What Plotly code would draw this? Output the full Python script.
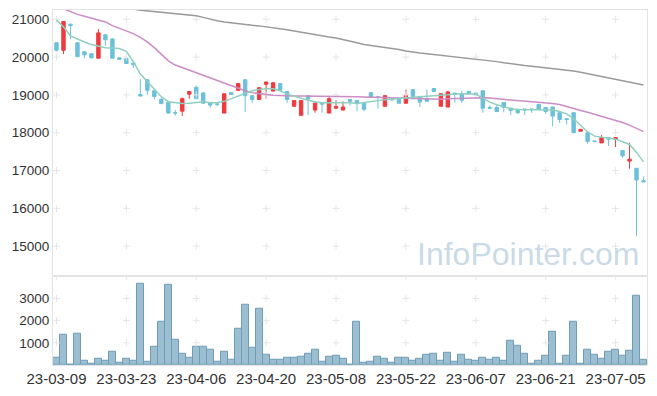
import plotly.graph_objects as go
from plotly.subplots import make_subplots

dates = [
    "2023-03-09", "2023-03-10", "2023-03-13", "2023-03-14", "2023-03-15", "2023-03-16", "2023-03-17",
    "2023-03-20", "2023-03-21", "2023-03-22", "2023-03-23", "2023-03-24", "2023-03-27", "2023-03-28",
    "2023-03-29", "2023-03-30", "2023-03-31",
    "2023-04-03", "2023-04-04", "2023-04-05", "2023-04-06", "2023-04-07", "2023-04-10", "2023-04-11",
    "2023-04-12", "2023-04-13", "2023-04-14", "2023-04-17", "2023-04-18", "2023-04-19", "2023-04-20",
    "2023-04-21", "2023-04-24", "2023-04-25", "2023-04-26", "2023-04-27", "2023-04-28",
    "2023-05-02", "2023-05-03", "2023-05-04", "2023-05-08", "2023-05-09", "2023-05-10", "2023-05-11",
    "2023-05-12", "2023-05-15", "2023-05-16", "2023-05-17", "2023-05-18", "2023-05-19", "2023-05-22",
    "2023-05-23", "2023-05-24", "2023-05-25", "2023-05-26", "2023-05-30", "2023-05-31",
    "2023-06-01", "2023-06-02", "2023-06-05", "2023-06-07", "2023-06-08", "2023-06-09", "2023-06-12",
    "2023-06-13", "2023-06-14", "2023-06-15", "2023-06-16", "2023-06-19", "2023-06-20", "2023-06-21",
    "2023-06-22", "2023-06-23", "2023-06-26", "2023-06-27", "2023-06-28", "2023-06-29", "2023-06-30",
    "2023-07-03", "2023-07-04", "2023-07-05", "2023-07-06", "2023-07-07", "2023-07-10", "2023-07-11",
]

open_ = [20380, 20180, 20870, 20380, 20140, 20090, 19970, 20590, 20480, 19980,
         19960, 19840, 19010, 19400, 19110, 18880, 18800, 18530, 18570, 19020,
         19200, 19050, 18800, 18760, 18520, 19060, 19120, 19400, 18980, 18880,
         19280, 19100, 19300, 19090, 18700, 18460, 18980, 18600, 18770, 18520,
         18650, 18600, 18880, 18850, 18780, 19060, 18950, 18700, 18880, 18900,
         18780, 19140, 18960, 18900, 19170, 18700, 18680, 19050, 19030, 19090,
         19050, 19110, 18670, 18670, 18800, 18650, 18620, 18630, 18630, 18750,
         18670, 18680, 18530, 18370, 18530, 18040, 18000, 17780, 17730, 17870,
         17830, 17530, 17250, 17060, 16730]
high = [20400, 20950, 20880, 20380, 20140, 20090, 20740, 20590, 20500, 19990,
        19960, 19850, 19420, 19420, 19110, 18930, 18800, 18600, 18930, 19100,
        19250, 19080, 18800, 18790, 19040, 19060, 19300, 19420, 18980, 19200,
        19350, 19330, 19300, 19090, 18850, 18850, 18980, 18830, 18770, 18950,
        18860, 18830, 18880, 18850, 18780, 19060, 18950, 18980, 18900, 18900,
        19140, 19140, 18960, 19140, 19170, 19030, 19110, 19050, 19110, 19090,
        19050, 19110, 18720, 18720, 18800, 18650, 18620, 18630, 18630, 18750,
        18670, 18680, 18530, 18370, 18530, 18090, 18000, 17790, 17940, 17870,
        17870, 17530, 17740, 17060, 16840]
low = [20150, 20080, 20470, 20000, 19970, 19970, 19970, 20300, 19960, 19930,
       19820, 19710, 18960, 19000, 18880, 18760, 18510, 18450, 18440, 18900,
       18900, 18770, 18650, 18700, 18510, 19000, 19110, 18550, 18790, 18870,
       18900, 19100, 19120, 18790, 18700, 18460, 18460, 18530, 18530, 18510,
       18640, 18590, 18720, 18570, 18570, 18940, 18640, 18700, 18860, 18780,
       18780, 18880, 18680, 18830, 19090, 18700, 18670, 18790, 18790, 19030,
       19000, 18530, 18640, 18560, 18540, 18470, 18490, 18470, 18530, 18630,
       18500, 18170, 18260, 18220, 18000, 18040, 17710, 17750, 17730, 17650,
       17620, 17340, 17050, 15260, 16700]
close = [20180, 20940, 20830, 20010, 20060, 19980, 20640, 20460, 19970, 19940,
         19830, 19800, 18970, 19120, 18960, 18770, 18520, 18520, 18900, 19090,
         18900, 18780, 18730, 18750, 19030, 19010, 19300, 18980, 18880, 19190,
         19340, 19320, 19120, 18880, 18850, 18850, 18890, 18780, 18760, 18900,
         18690, 18680, 18830, 18780, 18620, 18940, 18940, 18980, 18870, 18780,
         18990, 18960, 18810, 18830, 19090, 19030, 19080, 19020, 18860, 19030,
         19000, 18650, 18650, 18560, 18670, 18590, 18530, 18600, 18610, 18630,
         18560, 18440, 18350, 18350, 18000, 18090, 17770, 17770, 17870, 17830,
         17870, 17390, 17300, 16750, 16700]

volume = [330, 1360, 20, 1400, 190, 60, 280, 190, 600, 100,
          280, 190, 3640, 150, 820, 1940, 3600, 1130, 510, 330,
          820, 820, 690, 150, 600, 240, 1630, 2700, 780, 2520,
          460, 240, 240, 330, 330, 370, 510, 690, 150, 370,
          420, 280, 30, 1970, 90, 130, 360, 270, 90, 310,
          310, 180, 270, 450, 490, 180, 540, 130, 450, 220,
          180, 310, 220, 310, 180, 1075, 850, 490, 45, 180,
          400, 1480, 45, 400, 1930, 45, 670, 450, 270, 580,
          670, 400, 630, 3130, 220]

ma5 = [20980, 20800, 20560, 20470, 20400, 20330, 20280, 20245, 20240, 20225,
       20150, 19880, 19550, 19350, 19170, 18950, 18820, 18790, 18770, 18780,
       18810, 18820, 18790, 18790, 18830, 18900, 18960, 19050, 19110, 19140,
       19160, 19160, 19110, 19020, 18960, 18920, 18860, 18820, 18790, 18790,
       18790, 18800, 18790, 18775, 18800, 18840, 18860, 18875, 18890, 18895,
       18915, 18940, 18950, 18960, 18975, 18990, 19005, 19025, 19030, 19030,
       19020, 18910, 18810, 18740, 18690, 18635, 18615, 18613, 18613, 18613,
       18605, 18600, 18560, 18500, 18370, 18190, 18020, 17910, 17880, 17855,
       17830, 17760, 17690, 17480, 17230]
ma20 = [21350, 21270, 21200, 21130, 21080, 21030, 20990, 20930, 20830, 20760,
        20700, 20620, 20520, 20400, 20250, 20080, 19900, 19790, 19720, 19660,
        19590, 19520, 19450, 19370, 19300, 19240, 19160, 19110, 19060, 19030,
        19010, 18990, 18980, 18975, 18970, 18970, 18970, 18968, 18966, 18964,
        18962, 18960, 18955, 18950, 18945, 18940, 18930, 18925, 18915, 18905,
        18900, 18890, 18885, 18880, 18880, 18885, 18895, 18905, 18915, 18920,
        18925, 18925, 18915, 18900, 18885, 18870, 18855, 18845, 18830, 18810,
        18790, 18770, 18745, 18700, 18650, 18590, 18540, 18490, 18440, 18390,
        18340, 18270, 18200, 18120, 18030]
ma60 = [21700, 21660, 21620, 21580, 21540, 21500, 21460, 21420, 21380, 21340,
        21300, 21270, 21240, 21220, 21200, 21180, 21160, 21145, 21130, 21115,
        21095, 21050, 21000, 20960, 20925, 20900, 20880, 20860, 20840, 20825,
        20805, 20780, 20750, 20725, 20690, 20655, 20615, 20585, 20555, 20530,
        20505, 20470, 20430, 20380, 20335, 20310, 20285, 20260, 20235, 20200,
        20160, 20130, 20110, 20090, 20070, 20050, 20035, 20015, 19995, 19975,
        19955, 19935, 19910, 19880, 19850, 19820, 19795, 19775, 19755, 19735,
        19720, 19705, 19685, 19660, 19630, 19600, 19560, 19520, 19480, 19445,
        19410, 19375, 19340, 19300, 19260]

price_ticks = [15000, 16000, 17000, 18000, 19000, 20000, 21000]
price_labels = ["15000", "16000", "17000", "18000", "19000", "20000", "21000"]
vol_ticks = [1000, 2000, 3000, 4000]
vol_labels = ["1000", "2000", "3000", ""]

idx = list(range(len(dates)))
tick_idx = idx[::10]
tick_text = [dates[i][2:] for i in tick_idx]

UP = "#ee3a3f"
DOWN = "#6cc0d9"
FONT = "Liberation Sans, Arial, sans-serif"

fig = make_subplots(rows=2, cols=1, shared_xaxes=True, vertical_spacing=0,
                    row_heights=[0.7486, 0.2514])

# grid crosses
gx, gy = [], []
for t in tick_idx:
    for p in price_ticks:
        gx.append(t); gy.append(p)
fig.add_trace(go.Scatter(x=gx, y=gy, mode="markers", hoverinfo="skip",
                         marker=dict(symbol="cross-thin", size=5,
                                     line=dict(color="#e6e6e6", width=1))),
              row=1, col=1)
vx, vy = [], []
for t in tick_idx:
    for p in vol_ticks:
        vx.append(t); vy.append(p)
fig.add_trace(go.Scatter(x=vx, y=vy, mode="markers", hoverinfo="skip",
                         marker=dict(symbol="cross-thin", size=5,
                                     line=dict(color="#e6e6e6", width=1))),
              row=2, col=1)

fig.add_annotation(text="InfoPointer.com", xref="paper", yref="paper",
                   x=0.99, y=0.313, xanchor="right", yanchor="middle",
                   showarrow=False,
                   font=dict(family=FONT, size=32, color="rgba(178,202,219,0.7)"))

fig.add_trace(go.Scatter(x=idx, y=ma60, mode="lines",
                         line=dict(color="#9a9a9a", width=1.5)), row=1, col=1)
fig.add_trace(go.Scatter(x=idx, y=ma20, mode="lines",
                         line=dict(color="#cc8cc6", width=1.5)), row=1, col=1)

fig.add_trace(go.Candlestick(x=idx, open=open_, high=high, low=low, close=close,
                             increasing=dict(line=dict(color=UP, width=1), fillcolor=UP),
                             decreasing=dict(line=dict(color=DOWN, width=1), fillcolor=DOWN),
                             whiskerwidth=0),
              row=1, col=1)

fig.add_trace(go.Scatter(x=idx, y=ma5, mode="lines",
                         line=dict(color="#8fcfc0", width=1.5)), row=1, col=1)

fig.add_trace(go.Bar(x=idx, y=volume,
                     marker=dict(color="#9bbfd0", line=dict(color="#6f9db5", width=1))),
              row=2, col=1)

fig.update_layout(
    width=657, height=396,
    margin=dict(l=53, r=9, t=10, b=28),
    paper_bgcolor="white", plot_bgcolor="white",
    showlegend=False, bargap=0,
    font=dict(family=FONT, size=13.5, color="#333333"),
)
fig.update_xaxes(range=[-0.5, len(dates) - 0.5], tickvals=tick_idx, ticktext=tick_text,
                 showgrid=False, zeroline=False, showline=True, mirror=True,
                 linecolor="#e3e3e3", linewidth=1, ticks="",
                 rangeslider=dict(visible=False))
fig.update_xaxes(tickfont=dict(size=15, color="#333333"), row=2, col=1)
fig.update_yaxes(range=[14218, 21245], tickvals=price_ticks, ticktext=price_labels,
                 showgrid=False, zeroline=False, showline=True, mirror=True,
                 linecolor="#e3e3e3", ticks="", row=1, col=1)
fig.update_yaxes(range=[0, 4020], tickvals=vol_ticks, ticktext=vol_labels, showgrid=False,
                 zeroline=False, showline=True, mirror=True, linecolor="#e3e3e3",
                 ticks="", row=2, col=1)

fig.write_html("out.html")
